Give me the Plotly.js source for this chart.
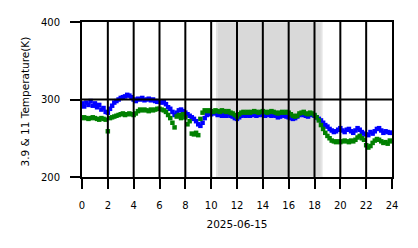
<!DOCTYPE html>
<html><head><meta charset="utf-8">
<script src="https://cdn.plot.ly/plotly-3.0.1.min.js"></script>
<style>html,body{margin:0;padding:0;background:#fff}#chart{width:418px;height:248px}</style>
</head><body><div id="chart"></div>
<script>
// 10-minute samples, hours 0..24
const hours = Array.from({length: 145}, (_, i) => i / 6);

const tb39 = [
 295,291,296,293,298,292,
 295,290,293,287,289,284,
 283,288,292,296,298,300,
 302,303,304,306,305,303,
 300,298,301,300,302,299,
 300,301,299,300,298,297,
 297,296,297,294,290,288,
 284,280,283,286,287,285,
 283,281,279,277,275,272,
 268,266,270,276,280,282,
 281,283,282,280,281,279,
 280,279,281,279,278,276,
 275,277,279,280,279,280,
 279,280,281,279,280,281,
 280,279,281,280,279,280,
 279,277,278,280,279,278,
 277,276,275,276,278,280,
 281,280,279,278,281,280,
 279,277,275,273,270,267,
 265,262,260,258,259,261,
 263,260,258,261,262,259,
 257,260,263,261,258,256,
 255,254,258,256,259,262,
 263,260,257,259,258,257,
 257
];

const tb11 = [
 276,277,276,275,276,277,
 276,275,274,276,275,274,
 259,276,277,278,279,280,
 281,282,280,281,282,281,
 280,282,285,287,286,287,
 286,285,287,286,287,288,
 288,287,286,284,280,276,
 270,264,278,280,276,281,
 277,268,272,256,255,257,
 254,275,283,286,285,286,
 285,284,286,285,284,286,
 285,284,285,283,282,280,
 278,281,283,284,283,284,
 283,284,285,284,283,284,
 285,284,283,284,285,284,
 283,282,283,284,283,284,
 283,281,279,278,279,282,
 283,284,282,281,283,282,
 280,277,273,267,262,257,
 253,250,247,246,245,246,
 245,246,247,246,245,247,
 246,248,251,253,250,248,
 241,238,240,244,247,249,
 248,246,244,245,243,247,
 246
];

const shadeRange = [10.45, 18.55];
const xTicks = [0,2,4,6,8,10,12,14,16,18,20,22,24];
const yTicks = [200,300,400];
const xRange = [0, 24];
const yRange = [200, 400];
const dateLabel = '2025-06-15';
const yLabel = '3.9 & 11 Temperature(K)';

const traces = [
  {x: hours, y: tb39, type: 'scatter', mode: 'markers', name: '3.9',
   marker: {symbol: 'square', size: 4.5, color: '#0000ff', line: {width: 0}}},
  {x: hours, y: tb11, type: 'scatter', mode: 'markers', name: '11',
   marker: {symbol: 'square', size: 4.5, color: '#008000', line: {width: 0}}}
];

const shapes = [{
  type: 'rect', xref: 'x', yref: 'paper', x0: shadeRange[0], x1: shadeRange[1], y0: 0, y1: 1,
  fillcolor: '#d9d9d9', line: {color: '#e4e4e4', width: 2}, layer: 'below'
}];
xTicks.filter(v => v > xRange[0] && v < xRange[1]).forEach(v => shapes.push({
  type: 'line', xref: 'x', yref: 'paper', x0: v, x1: v, y0: 0, y1: 1,
  line: {color: '#000', width: 2}, layer: 'above'
}));
yTicks.filter(v => v > yRange[0] && v < yRange[1]).forEach(v => shapes.push({
  type: 'line', xref: 'paper', yref: 'y', x0: 0, x1: 1, y0: v, y1: v,
  line: {color: '#000', width: 2}, layer: 'above'
}));

const font = {family: 'DejaVu Sans', size: 10, color: '#000'};
const titleFont = {family: 'DejaVu Sans', size: 10.5, color: '#000'};
const layout = {
  width: 418, height: 248,
  margin: {l: 82, r: 26, t: 22, b: 71, pad: 0},
  paper_bgcolor: '#fff', plot_bgcolor: '#fff',
  showlegend: false,
  font: font,
  xaxis: {
    range: xRange, tickmode: 'array', tickvals: xTicks, ticktext: xTicks.map(String),
    ticks: 'outside', ticklen: 10, tickwidth: 2, tickcolor: '#000',
    showgrid: false, zeroline: false, showline: true, mirror: true, linewidth: 2, linecolor: '#000',
    tickfont: font, ticklabelstandoff: 8,
    title: {text: dateLabel, font: titleFont, standoff: 11}
  },
  yaxis: {
    range: yRange, tickmode: 'array', tickvals: yTicks, ticktext: yTicks.map(String),
    ticks: 'outside', ticklen: 10, tickwidth: 2, tickcolor: '#000',
    showgrid: false, zeroline: false, showline: true, mirror: true, linewidth: 2, linecolor: '#000',
    tickfont: font, ticklabelstandoff: 8
  },
  annotations: [{
    text: yLabel, xref: 'paper', yref: 'paper', x: 0, y: 0.5, xshift: -58, yshift: -2,
    xanchor: 'center', yanchor: 'middle', textangle: -90, showarrow: false, font: titleFont
  }],
  shapes: shapes
};

Plotly.newPlot('chart', traces, layout, {staticPlot: true, displayModeBar: false});
</script></body></html>
